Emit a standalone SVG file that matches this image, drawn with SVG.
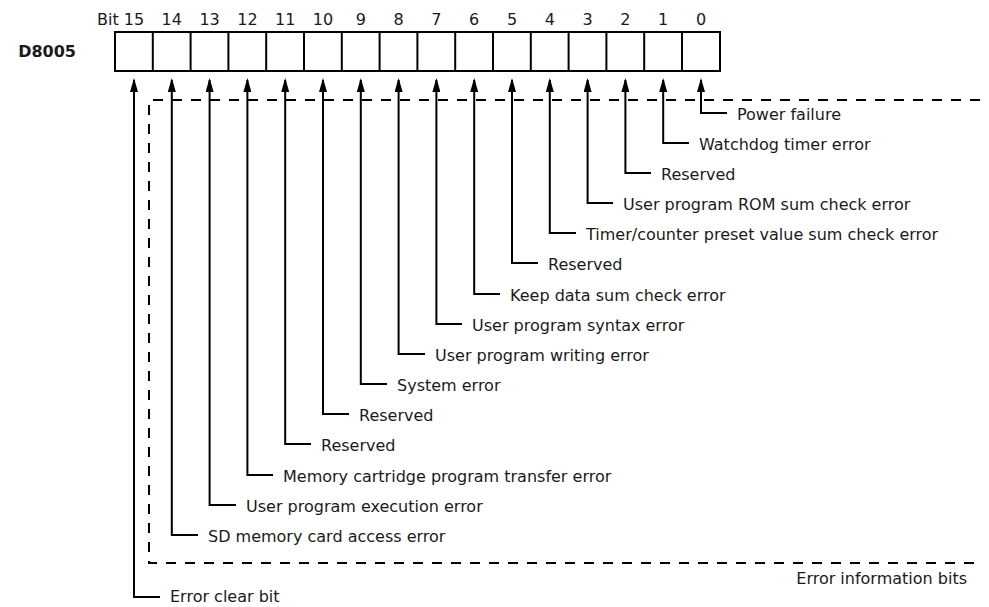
<svg xmlns="http://www.w3.org/2000/svg" width="989" height="607" viewBox="0 0 989 607">
<defs>
<style>
text{font-family:"DejaVu Sans","Liberation Sans",sans-serif;font-size:16px;fill:#1a1a1a}
.num{text-anchor:middle}
.reg{fill:#fff;stroke:#000;stroke-width:2}
.cell{stroke:#000;stroke-width:2}
.lead{fill:none;stroke:#000;stroke-width:2;marker-start:url(#arr)}
.dash{fill:none;stroke:#000;stroke-width:2;stroke-dasharray:10 9}
</style>
<marker id="arr" markerUnits="userSpaceOnUse" viewBox="0 0 14 8" refX="12" refY="4" markerWidth="14" markerHeight="8" orient="auto-start-reverse">
<path d="M0,0 L14,4 L0,8 z" fill="#000"/>
</marker>
</defs>
<rect width="989" height="607" fill="#fff"/>
<g id="register">
<text x="76" y="57" style="font-weight:bold;text-anchor:end">D8005</text>
<rect class="reg" x="115" y="32" width="605" height="39"/>
<path class="cell" d="M152.8,32V71M190.6,32V71M228.4,32V71M266.2,32V71M304,32V71M341.8,32V71M379.6,32V71M417.4,32V71M455.2,32V71M493,32V71M530.8,32V71M568.6,32V71M606.4,32V71M644.2,32V71M682,32V71"/>
<text x="144.2" y="25" style="text-anchor:end">Bit 15</text>
<text class="num" x="171.8" y="25">14</text>
<text class="num" x="209.6" y="25">13</text>
<text class="num" x="247.4" y="25">12</text>
<text class="num" x="285.2" y="25">11</text>
<text class="num" x="323" y="25">10</text>
<text class="num" x="360.8" y="25">9</text>
<text class="num" x="398.6" y="25">8</text>
<text class="num" x="436.4" y="25">7</text>
<text class="num" x="474.2" y="25">6</text>
<text class="num" x="512" y="25">5</text>
<text class="num" x="549.8" y="25">4</text>
<text class="num" x="587.6" y="25">3</text>
<text class="num" x="625.4" y="25">2</text>
<text class="num" x="663.2" y="25">1</text>
<text class="num" x="701" y="25">0</text>
</g>
<g id="error-info-group">
<path class="dash" d="M980,100H149V563H983"/>
<text x="967" y="584" style="text-anchor:end">Error information bits</text>
</g>
<g id="connectors">
<path class="lead" d="M701,80V113H727"/>
<path class="lead" d="M663.2,80V143H689"/>
<path class="lead" d="M625.4,80V173H651"/>
<path class="lead" d="M587.6,80V203H613"/>
<path class="lead" d="M549.8,80V233H576"/>
<path class="lead" d="M512,80V263H538"/>
<path class="lead" d="M474.2,80V294H500"/>
<path class="lead" d="M436.4,80V324H462"/>
<path class="lead" d="M398.6,80V354H425"/>
<path class="lead" d="M360.8,80V384H387"/>
<path class="lead" d="M323,80V414H349"/>
<path class="lead" d="M285.2,80V444H311"/>
<path class="lead" d="M247.4,80V475H273"/>
<path class="lead" d="M209.6,80V505H236"/>
<path class="lead" d="M171.8,80V535H198"/>
<path class="lead" d="M134,80V597H160"/>
</g>
<g id="bit0"><text x="737" y="120">Power failure</text></g>
<g id="bit1"><text x="699" y="150">Watchdog timer error</text></g>
<g id="bit2"><text x="661" y="180">Reserved</text></g>
<g id="bit3"><text x="623" y="210">User program ROM sum check error</text></g>
<g id="bit4"><text x="586" y="240">Timer/counter preset value sum check error</text></g>
<g id="bit5"><text x="548" y="270">Reserved</text></g>
<g id="bit6"><text x="510" y="301">Keep data sum check error</text></g>
<g id="bit7"><text x="472" y="331">User program syntax error</text></g>
<g id="bit8"><text x="435" y="361">User program writing error</text></g>
<g id="bit9"><text x="397" y="391">System error</text></g>
<g id="bit10"><text x="359" y="421">Reserved</text></g>
<g id="bit11"><text x="321" y="451">Reserved</text></g>
<g id="bit12"><text x="283" y="482">Memory cartridge program transfer error</text></g>
<g id="bit13"><text x="246" y="512">User program execution error</text></g>
<g id="bit14"><text x="208" y="542">SD memory card access error</text></g>
<g id="bit15"><text x="170" y="602">Error clear bit</text></g>
</svg>
